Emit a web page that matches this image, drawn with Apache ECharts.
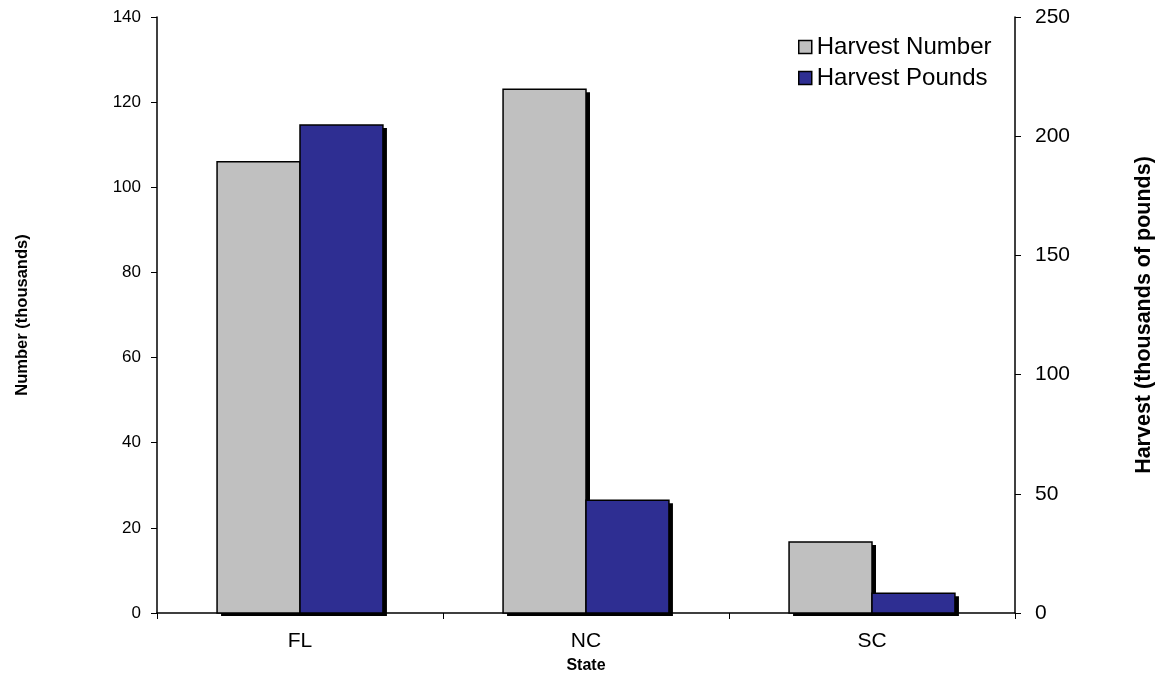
<!DOCTYPE html>
<html><head><meta charset="utf-8">
<script src="https://cdn.jsdelivr.net/npm/echarts@6/dist/echarts.min.js"></script>
<style>html,body{margin:0;padding:0;background:#fff}#c{width:1172px;height:693px}</style>
</head><body><div id="c"></div>
<script>
const categories = ['FL', 'NC', 'SC'];
const harvestNumber = [106, 123, 16.7];
const harvestPounds = [204.7, 47.3, 8.3];
const leftTicks = [0, 20, 40, 60, 80, 100, 120, 140];
const rightTicks = [0, 50, 100, 150, 200, 250];

const GREY = '#C0C0C0';
const BLUE = '#2E2E92';
const chart = echarts.init(document.getElementById('c'), null, {renderer: 'canvas'});
const font = 'Arial, "Liberation Sans", sans-serif';

function makeRender(color, side) {
  return function (params, api) {
    const cat = api.value(0), v = api.value(1);
    const band = api.size([1, 0])[0];
    const base = api.coord([cat, 0]);
    const top = api.coord([cat, v]);
    const bw = band * 0.29;
    const x0 = base[0] + (side < 0 ? -bw : 0);
    const h = base[1] - top[1];
    return {
      type: 'group',
      children: [
        {type: 'rect', shape: {x: x0 + 4, y: top[1] + 3, width: bw, height: h}, style: {fill: '#000'}},
        {type: 'rect', shape: {x: x0, y: top[1], width: bw, height: h}, style: {fill: color, stroke: '#000', lineWidth: 1.5}}
      ]
    };
  };
}

chart.setOption({
  animation: false,
  textStyle: {fontFamily: font},
  grid: {left: 157, right: 157, top: 17, bottom: 80},
  legend: {
    orient: 'vertical', left: 793, top: 30, itemWidth: 13, itemHeight: 13, itemGap: 7,
    icon: 'rect',
    textStyle: {fontSize: 24, color: '#000', fontFamily: font},
    data: [
      {name: 'Harvest Number', itemStyle: {color: GREY, borderColor: '#000', borderWidth: 1.5}},
      {name: 'Harvest Pounds', itemStyle: {color: BLUE, borderColor: '#000', borderWidth: 1.5}}
    ]
  },
  xAxis: {
    type: 'category', data: categories,
    name: 'State', nameLocation: 'middle', nameGap: 45,
    nameTextStyle: {fontSize: 16, fontWeight: 'bold', color: '#000', fontFamily: font},
    axisLine: {lineStyle: {color: '#000', width: 1.5}},
    axisTick: {show: true, length: 6, lineStyle: {color: '#000'}},
    axisLabel: {fontSize: 21, color: '#000', margin: 18, fontFamily: font}
  },
  yAxis: [
    {
      type: 'value', min: leftTicks[0], max: leftTicks[leftTicks.length - 1], interval: 20,
      name: 'Number (thousands)', nameLocation: 'middle', nameGap: 126, nameRotate: 90,
      nameTextStyle: {fontSize: 16.5, fontWeight: 'bold', color: '#000', fontFamily: font},
      axisLine: {show: true, lineStyle: {color: '#000', width: 1.5}},
      axisTick: {show: true, length: 6, lineStyle: {color: '#000'}},
      axisLabel: {fontSize: 17, color: '#000', margin: 16, fontFamily: font},
      splitLine: {show: false}
    },
    {
      type: 'value', min: rightTicks[0], max: rightTicks[rightTicks.length - 1], interval: 50,
      name: 'Harvest (thousands of pounds)', nameLocation: 'middle', nameGap: 118, nameRotate: 90,
      nameTextStyle: {fontSize: 21.5, fontWeight: 'bold', color: '#000', fontFamily: font},
      axisLine: {show: true, lineStyle: {color: '#000', width: 1.5}},
      axisTick: {show: true, length: 6, lineStyle: {color: '#000'}},
      axisLabel: {fontSize: 21, color: '#000', margin: 20, fontFamily: font},
      splitLine: {show: false}
    }
  ],
  series: [
    {name: 'Harvest Number', type: 'custom', yAxisIndex: 0,
     data: harvestNumber.map((v, i) => [i, v]), encode: {x: 0, y: 1},
     itemStyle: {color: GREY}, renderItem: makeRender(GREY, -1), z: 2},
    {name: 'Harvest Pounds', type: 'custom', yAxisIndex: 1,
     data: harvestPounds.map((v, i) => [i, v]), encode: {x: 0, y: 1},
     itemStyle: {color: BLUE}, renderItem: makeRender(BLUE, 1), z: 2}
  ]
});
</script></body></html>
